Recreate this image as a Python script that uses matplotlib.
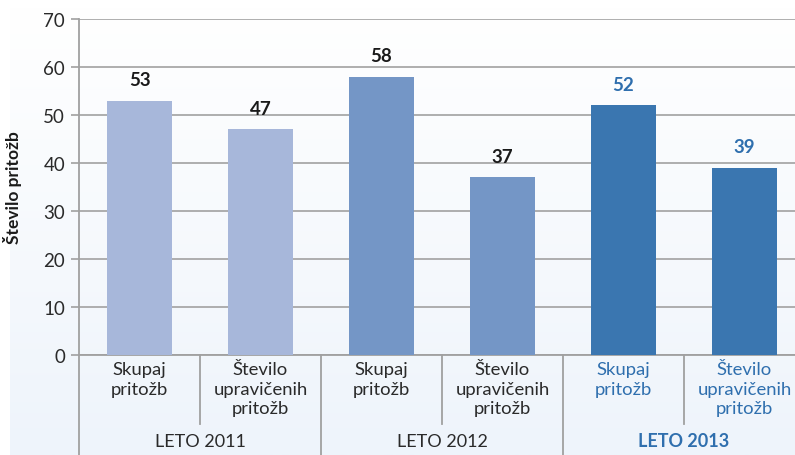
import numpy as np
import matplotlib
matplotlib.use("Agg")
import matplotlib.pyplot as plt
import matplotlib.transforms as mtransforms

categories = ["Skupaj\npritožb", "Število\nupravičenih\npritožb"] * 3
groups = ["LETO 2011", "LETO 2012", "LETO 2013"]
values = [53, 47, 58, 37, 52, 39]
yticks = [0, 10, 20, 30, 40, 50, 60, 70]
ylabel = "Število pritožb"

bar_colors = ["#a7b7da", "#a7b7da", "#7496c6", "#7496c6", "#3a76b0", "#3a76b0"]
label_colors = ["#1a1a1a"] * 4 + ["#2f6fae"] * 2
cat_colors = ["#2a2a2a"] * 4 + ["#2f6fae"] * 2
group_colors = ["#2a2a2a", "#2a2a2a", "#2f6fae"]
group_weights = ["normal", "normal", "bold"]

FONT = ["Lato", "DejaVu Sans"]
plt.rcParams["font.family"] = FONT

W, H = 795, 456
fig = plt.figure(figsize=(W / 100, H / 100), dpi=100)
fig.patch.set_facecolor("white")

# gradient background panel
bg = fig.add_axes([10 / W, 0, 1 - 10 / W, 1 - 8 / H])
grad = np.linspace(0, 1, 256).reshape(-1, 1)
top = np.array([1.0, 1.0, 1.0])
bot = np.array([0xee, 0xf4, 0xfb]) / 255.0
img = top[None, None, :] * (1 - grad[:, :, None]) + bot[None, None, :] * grad[:, :, None]
bg.imshow(img, aspect="auto", extent=[0, 1, 0, 1], origin="upper")
bg.axis("off")

left, right = 79, 805
bottom, topy = 356, 20
ax = fig.add_axes([left / W, 1 - bottom / H, (right - left) / W, (bottom - topy) / H])
ax.set_facecolor("none")

x = np.arange(len(values))
ax.bar(x, values, width=0.54, color=bar_colors, zorder=3)
ax.set_xlim(-0.5, len(values) - 0.5)
ax.set_ylim(0, 70)
ax.set_yticks(yticks)
ax.set_yticklabels([str(t) for t in yticks], fontsize=13.5, color="#2a2a2a")
ax.tick_params(axis="y", length=6, width=1.2, color="#a0a0a0", pad=4)
ax.set_xticks([])
ax.yaxis.grid(True, color="#a8a8a8", linewidth=1.3, zorder=0)
for s in ["top", "right"]:
    ax.spines[s].set_visible(False)
ax.spines["left"].set_color("#a0a0a0")
ax.spines["left"].set_linewidth(1.3)
ax.spines["bottom"].set_color("#a0a0a0")
ax.spines["bottom"].set_linewidth(1.3)

ax.set_ylabel(ylabel, fontsize=12.5, fontweight="bold", color="#1a1a1a")
ax.yaxis.set_label_coords(-0.078, 0.5)

for xi, v, c in zip(x, values, label_colors):
    ax.annotate(str(v), (xi, v), xytext=(0, 9), textcoords="offset points",
                ha="center", va="bottom", fontsize=13.5, fontweight="bold", color=c)

trans = mtransforms.blended_transform_factory(ax.transData, ax.transAxes)
ph = bottom - topy

def ay(ypix):
    return (bottom - ypix) / ph

for xi, lab, c in zip(x, categories, cat_colors):
    ax.text(xi, ay(362), lab, transform=trans, ha="center", va="top", fontsize=13.3,
            color=c, linespacing=1.28, multialignment="center")

for gi, (g, c, w) in enumerate(zip(groups, group_colors, group_weights)):
    ax.text(2 * gi + 0.5, ay(442), g, transform=trans, ha="center", va="center",
            fontsize=13, color=c, fontweight=w)

sep_color = "#a0a0a0"
for xs in [0.5, 2.5, 4.5]:
    ax.plot([xs, xs], [0, ay(425)], transform=trans, color=sep_color, lw=1.3, clip_on=False)
for xs in [-0.5, 1.5, 3.5]:
    ax.plot([xs, xs], [0, ay(460)], transform=trans, color=sep_color, lw=1.3, clip_on=False)

fig.savefig("out.png", dpi=100)
